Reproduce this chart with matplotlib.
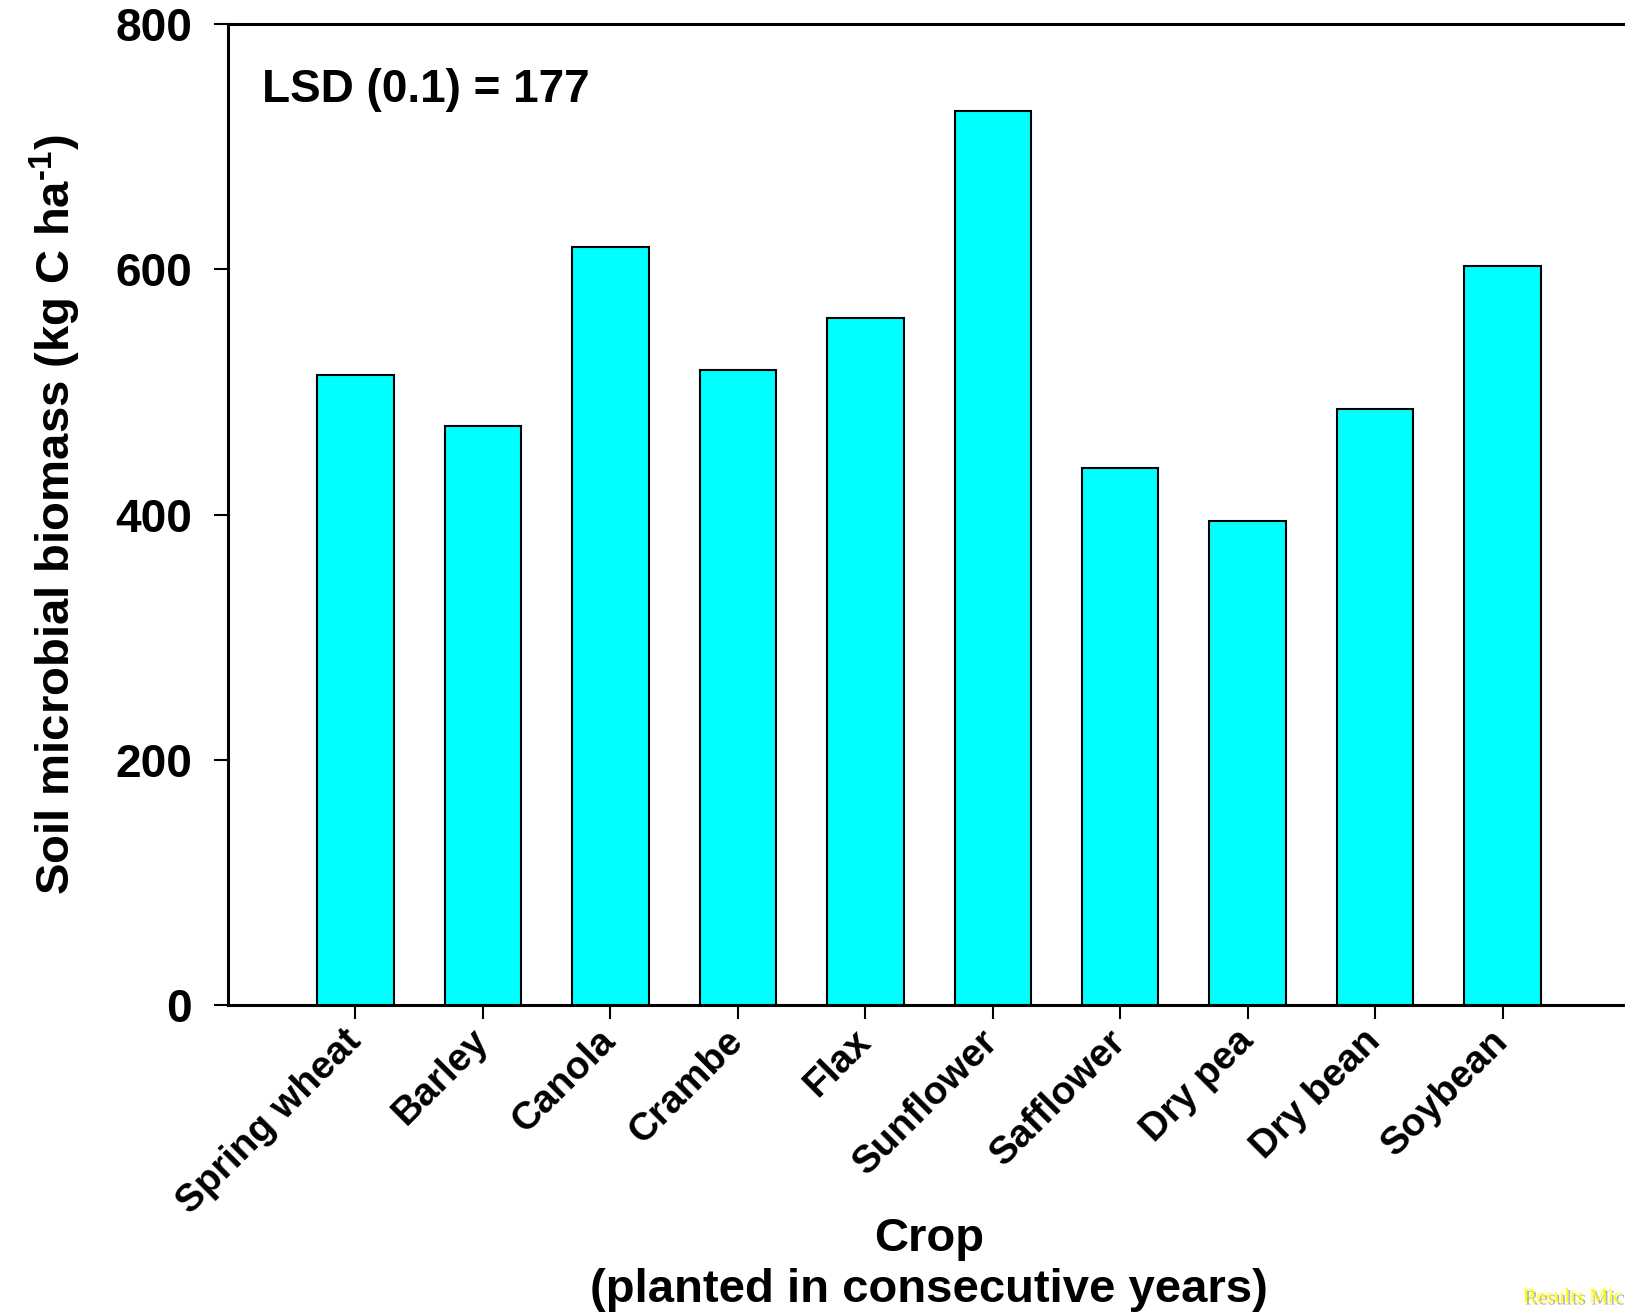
import matplotlib.pyplot as plt
import matplotlib.patheffects as pe

plt.rcParams["font.family"] = ["Liberation Sans", "DejaVu Sans"]
plt.rcParams["font.weight"] = "bold"
plt.rcParams["mathtext.fontset"] = "custom"
plt.rcParams["mathtext.rm"] = "Liberation Sans:bold"
plt.rcParams["mathtext.bf"] = "Liberation Sans:bold"
plt.rcParams["mathtext.default"] = "bf"

# data
crops = ["Spring wheat", "Barley", "Canola", "Crambe", "Flax",
         "Sunflower", "Safflower", "Dry pea", "Dry bean", "Soybean"]
biomass = [514, 472, 618, 518, 560, 729, 438, 395, 486, 603]
yticks = [0, 200, 400, 600, 800]

fig = plt.figure(figsize=(16.25, 13.15), dpi=100)
ax = fig.add_axes([0.1403, 0.2357, 0.8628, 0.746])

pos = list(range(1, len(crops) + 1))
ax.bar(pos, biomass, width=0.6, color="#00ffff", edgecolor="black", linewidth=1.5, zorder=3)

ax.set_xlim(0, 11)
ax.set_ylim(0, 800)
ax.set_yticks(yticks)
ax.set_yticklabels([str(t) for t in yticks])
ax.set_xticks(pos)
ax.set_xticklabels(crops, rotation=45, ha="right", va="center", rotation_mode="anchor")

for s in ax.spines.values():
    s.set_linewidth(2.2)
ax.tick_params(axis="y", direction="out", length=10, width=1.5, labelsize=33, pad=16)
ax.tick_params(axis="x", direction="out", length=10, width=1.5, labelsize=28, pad=12)
for lab in ax.get_xticklabels() + ax.get_yticklabels():
    lab.set_fontweight("bold")

ax.set_ylabel(r"Soil microbial biomass (kg C ha$^{\text{-1}}$)", fontsize=34, fontweight="bold", labelpad=23)
ax.set_xlabel("Crop\n(planted in consecutive years)", fontsize=34, fontweight="bold",
              linespacing=1.2, va="top")
ax.xaxis.set_label_coords(0.5, -0.216)

ax.text(0.024, 0.933, "LSD (0.1) = 177", transform=ax.transAxes, fontsize=33,
        fontweight="bold", ha="left", va="center")

t = fig.text(0.937, 0.013, "Results Mic", fontsize=15, color="yellow",
             family="Liberation Serif", fontweight="normal", ha="left", va="center")
t.set_path_effects([pe.SimplePatchShadow(offset=(1.5, -1.5), shadow_rgbFace="gray", alpha=0.6),
                    pe.Normal()])

fig.savefig("out.png", dpi=100)
